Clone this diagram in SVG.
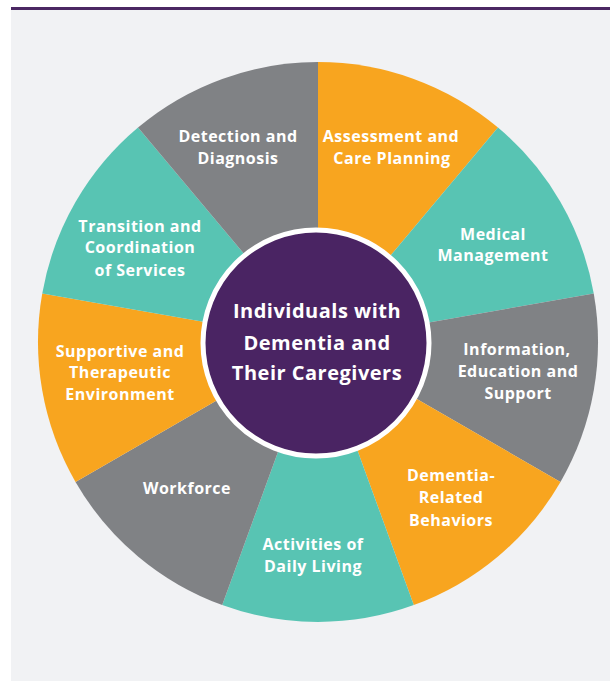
<svg xmlns="http://www.w3.org/2000/svg" width="610" height="681" viewBox="0 0 610 681">
<style>
.o{fill:#f8a51f}.t{fill:#58c4b3}.g{fill:#808285}
.lbl{font-family:"Open Sans",Lato,"Liberation Sans",sans-serif;font-weight:700;font-size:16px;fill:#fff;text-anchor:middle;letter-spacing:0.5px}
.ctr{font-family:"Open Sans",Lato,"Liberation Sans",sans-serif;font-weight:700;font-size:20px;fill:#fff;text-anchor:middle;letter-spacing:0.5px}
</style>
<rect x="0" y="0" width="610" height="681" fill="#ffffff"/>
<rect x="11" y="10" width="599" height="671" fill="#f1f2f4"/>
<rect x="11" y="7" width="599" height="3" fill="#4b2763"/>
<g id="wheel">
<g id="n-assessment"><path class="o" d="M318,342 L318,62 A280,280 0 0 1 497.98,127.51 Z"/>
<text class="lbl" x="391" y="142">Assessment and</text><text class="lbl" x="392" y="164">Care Planning</text></g>
<g id="n-medical"><path class="t" d="M318,342 L497.98,127.51 A280,280 0 0 1 593.75,293.38 Z"/>
<text class="lbl" x="493" y="240">Medical</text><text class="lbl" x="493" y="261">Management</text></g>
<g id="n-information"><path class="g" d="M318,342 L593.75,293.38 A280,280 0 0 1 560.49,482 Z"/>
<text class="lbl" x="517" y="355">Information,</text><text class="lbl" x="518" y="377">Education and</text><text class="lbl" x="518" y="399">Support</text></g>
<g id="n-behaviors"><path class="o" d="M318,342 L560.49,482 A280,280 0 0 1 413.77,605.11 Z"/>
<text class="lbl" x="451" y="481">Dementia-</text><text class="lbl" x="451" y="503">Related</text><text class="lbl" x="451" y="526">Behaviors</text></g>
<g id="n-activities"><path class="t" d="M318,342 L413.77,605.11 A280,280 0 0 1 222.23,605.11 Z"/>
<text class="lbl" x="313" y="550">Activities of</text><text class="lbl" x="313" y="572">Daily Living</text></g>
<g id="n-workforce"><path class="g" d="M318,342 L222.23,605.11 A280,280 0 0 1 75.51,482 Z"/>
<text class="lbl" x="187" y="494">Workforce</text></g>
<g id="n-supportive"><path class="o" d="M318,342 L75.51,482 A280,280 0 0 1 42.25,293.38 Z"/>
<text class="lbl" x="120" y="357">Supportive and</text><text class="lbl" x="120" y="378">Therapeutic</text><text class="lbl" x="120" y="400">Environment</text></g>
<g id="n-transition"><path class="t" d="M318,342 L42.25,293.38 A280,280 0 0 1 138.02,127.51 Z"/>
<text class="lbl" x="140" y="232">Transition and</text><text class="lbl" x="140" y="253">Coordination</text><text class="lbl" x="140" y="276">of Services</text></g>
<g id="n-detection"><path class="g" d="M318,342 L138.02,127.51 A280,280 0 0 1 318,62 Z"/>
<text class="lbl" x="238" y="142">Detection and</text><text class="lbl" x="238" y="164">Diagnosis</text></g>
</g>
<g id="n-center">
<circle cx="316" cy="343" r="113" fill="#4a2463" stroke="#ffffff" stroke-width="5"/>
<text class="ctr" x="317" y="318">Individuals with</text>
<text class="ctr" x="317" y="350">Dementia and</text>
<text class="ctr" x="317" y="380">Their Caregivers</text>
</g>
<g id="connectors"/>
</svg>
